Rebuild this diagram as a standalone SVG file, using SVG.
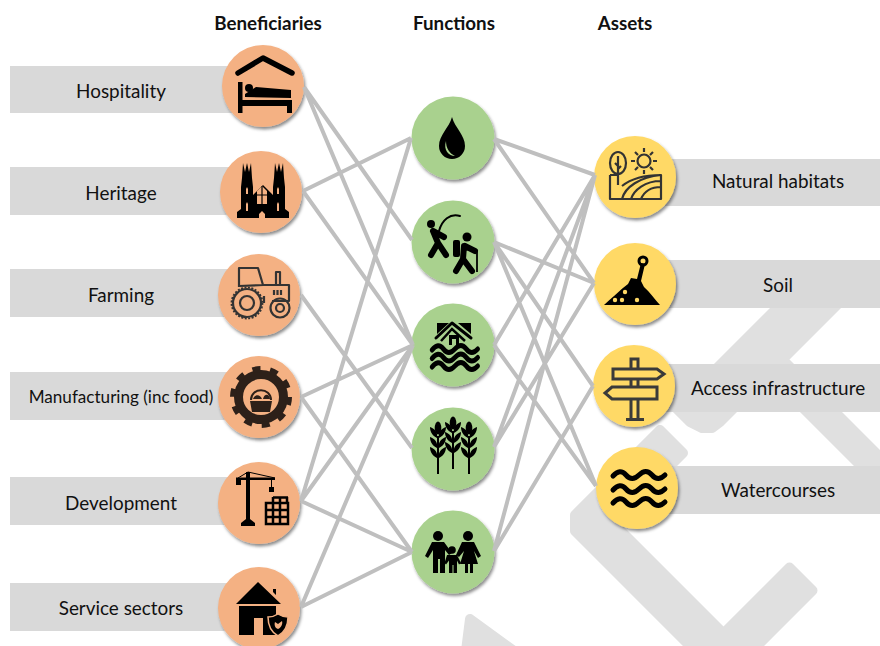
<svg xmlns="http://www.w3.org/2000/svg" xmlns:xlink="http://www.w3.org/1999/xlink" width="880" height="646" viewBox="0 0 880 646">
<style>
text{font-family:"Lato","Open Sans","Liberation Sans",sans-serif;fill:#111;text-anchor:middle}
.h{font-size:18.800px;font-weight:700}
.t{font-size:18.900px}
.lab{fill:#d9d9d9}
.wm{fill:#e0e0e0;stroke:#e0e0e0;stroke-width:10;stroke-linejoin:round}
.c{stroke:#bfbfbf;stroke-width:4;fill:none}
.o{fill:#f4b183;filter:url(#s)}
.g{fill:#a9d18e;filter:url(#s)}
.y{fill:#ffd966;filter:url(#s)}
.k{fill:#000}
.ln{fill:none;stroke:#000;stroke-linecap:round;stroke-linejoin:round}
.d{fill:none;stroke:#333;stroke-width:2.200;stroke-linejoin:round}
</style>
<defs>
<filter id="s" x="-20%" y="-20%" width="145%" height="145%"><feDropShadow dx="1.500" dy="2.500" stdDeviation="1.600" flood-color="#000" flood-opacity=".45"/></filter>
<path id="w" d="M0 0q7-8 13-1t13 0t13 0t13 0" fill="none" stroke="#000" stroke-width="5" stroke-linecap="round"/>
<g id="wheat">
<ellipse cx="0" cy="-22" rx="3.300" ry="6.500"/>
<path d="M-1-12C-7-15-8-20-8-23C-3-21 0-18-1-12ZM1-12C7-15 8-20 8-23C3-21 0-18 1-12Z"/>
<path d="M-1-2C-7-5-8-10-8-13C-3-11 0-8-1-2ZM1-2C7-5 8-10 8-13C3-11 0-8 1-2Z"/>
<path d="M-1 8C-7 5-8 0-8-3C-3-1 0 2-1 8ZM1 8C7 5 8 0 8-3C3-1 0 2 1 8Z"/>
<rect x="-1" y="-14" width="2" height="38"/>
</g>
</defs>
<g id="watermark">
<path class="wm" d="M660 430L683 453L613 523L723.500 633.500L789.500 567.500L812.500 590.500L723.500 679.500L575 531L575 515Z"/>
<path class="wm" d="M781 304L676.500 408.500L690 422L702 428L712 428L720 422L768.500 373.500L895 500L895 472L782.500 359.500L842 300L785 300Z"/>
<path class="wm" d="M470 619L514 651L466 651Z"/>
</g>
<g id="headers">
<text class="h" x="268" y="30">Beneficiaries</text>
<text class="h" x="454" y="30">Functions</text>
<text class="h" x="625" y="30">Assets</text>
</g>
<g id="node-hospitality">
<rect class="lab" x="10" y="66" width="225" height="47"/>
<text class="t" x="121" y="98">Hospitality</text>
<circle class="o" cx="263" cy="86" r="41"/>
<path class="ln" stroke-width="5.500" d="M238 73L263 58L292 73"/>
<rect class="k" x="238" y="82" width="4.500" height="31"/>
<rect class="k" x="238" y="100" width="54" height="6"/>
<rect class="k" x="287" y="100" width="5" height="13"/>
<path class="k" d="M245 97L245 94L256 87L291 90V98Z"/>
<circle class="k" cx="249" cy="88" r="4"/>
</g>
<g id="node-heritage">
<rect class="lab" x="10" y="167" width="225" height="48"/>
<text class="t" x="121" y="200">Heritage</text>
<circle class="o" cx="261" cy="192" r="41"/>
<path class="k" d="M237 218v-6l4-3v-22l1-9 1-15 2 9 2-9 2 9 2-9 1 15 1 9v8l6-6 4-4 4 4 6 6v-8l1-9 1-15 2 9 2-9 2 9 2-9 1 15 1 9v22l4 3v6z"/>
<path fill="#f4b183" d="M257 204v-13l5-5 5 5v13zM259 218v-4l3-3 3 3v4zM246 211v-7l1-2 1 2v7zM277 211v-7l1-2 1 2v7zM246 194v-5l1-2 1 2v5zM277 194v-5l1-2 1 2v5z"/>
<path stroke="#000" stroke-width="1.200" d="M262 186v18M257 195h10"/>
</g>
<g id="node-farming">
<rect class="lab" x="10" y="269" width="225" height="48"/>
<text class="t" x="121" y="302">Farming</text>
<circle class="o" cx="259" cy="295" r="41"/>
<g class="d">
<circle cx="247" cy="303" r="14"/>
<circle cx="247" cy="303" r="15.500" stroke-dasharray="2 1.500" stroke-width="1.800"/>
<circle cx="247" cy="303" r="7"/>
<circle cx="280" cy="308" r="9.500"/>
<circle cx="280" cy="308" r="4"/>
<path d="M239 287V268H258L263 285H289V301H272M264 303V296M239 286L263 285"/>
<path d="M276 285V272H280V285"/>
<path d="M274 290v5M277.500 290v5M281 290v5"/>
</g>
</g>
<g id="node-manufacturing">
<rect class="lab" x="10" y="372" width="225" height="48"/>
<text class="t" x="121" y="403" style="font-size:17.100px">Manufacturing (inc food)</text>
<circle class="o" cx="259" cy="397" r="41"/>
<g fill="none" stroke="#2d2019">
<circle cx="261" cy="397" r="22.500" stroke-width="9"/>
<circle cx="261" cy="397" r="28" stroke-width="6" stroke-dasharray="8 9.600"/>
<path stroke-width="2" d="M251 400c0-13 20-13 20 0"/>
</g>
<path fill="#2d2019" d="M250 401h22l-2 11h-18zM253 399c2-5 7-5 9 0zM263 399c1-5 6-6 7 0z"/>
</g>
<g id="node-development">
<rect class="lab" x="10" y="477" width="225" height="48"/>
<text class="t" x="121" y="510">Development</text>
<circle class="o" cx="259" cy="503" r="41"/>
<path class="k" d="M246 472h4v48h-4zM241 526v-3l5-4h4l5 4v3zM236 477.500h39v2.500h-39zM236 480h5v5h-5zM269 487h5v5h-5z"/>
<path stroke="#000" fill="none" d="M248 472L275 478M248 472L238 478M271.500 480V487"/>
<g stroke="#000" fill="none" stroke-width="2.500">
<rect x="266" y="503" width="22" height="21"/>
<path d="M273 497V524M280 497V524M287 497V503M266 510H288M266 517H288M273 497.500H288"/>
</g>
</g>
<g id="node-service">
<rect class="lab" x="10" y="583" width="225" height="48"/>
<text class="t" x="121" y="615">Service sectors</text>
<circle class="o" cx="259" cy="608" r="41"/>
<path class="k" d="M258 582L281 604H236zM239 606H276V635H263V618H254V635H239zM273 589h3v6l-3-3z"/>
<path fill="#000" stroke="#f4b183" stroke-width="1.500" d="M268 617c4 0 7-1 10-3c3 2 6 3 10 3c0 9-3 15-10 19c-7-4-10-10-10-19z"/>
<path fill="#f4b183" d="M275 622l3 2l4-3c1 3-1 7-4 8c-3-1-4-4-3-7z"/>
</g>
<g id="node-water">
<circle class="g" cx="453" cy="138" r="41.500"/>
<path class="k" d="M452 117C449 128 439 135 439 146A13 13 0 0 0 465 146C465 135 455 128 452 117Z"/>
<path fill="#a9d18e" d="M446 141C443 150 449 156 455 156C449 153 446 148 446 141Z"/>
</g>
<g id="node-recreation">
<circle class="g" cx="453" cy="242" r="41.500"/>
<circle class="k" cx="431" cy="224" r="4"/>
<circle class="k" cx="467" cy="237" r="4.500"/>
<path class="ln" stroke-width="6" d="M433 231L438 243L431 255M438 243L446 255M433 231L444 237"/>
<path class="ln" stroke-width="2" d="M439 231C442 220 450 213 460 216"/>
<path class="ln" stroke-width="6" d="M464 246L463 259L456 271M463 259L472 271M465 246L475 251"/>
<rect class="k" x="453" y="240" width="7" height="17" rx="2"/>
<path stroke="#000" stroke-width="1.800" d="M477 250V272"/>
</g>
<g id="node-flood">
<circle class="g" cx="453" cy="345" r="41.500"/>
<path class="k" d="M437 323h12l-12 11zM458 323h13v11z"/>
<path class="ln" stroke-width="3" d="M436 338L452 323L471 338"/>
<path fill="none" stroke="#000" stroke-width="2.500" d="M441 341L452 329L465 341"/>
<rect class="k" x="449" y="335" width="10" height="10"/>
<rect fill="#a9d18e" x="452" y="339" width="4" height="6"/>
<use xlink:href="#w" href="#w" transform="translate(432 350) scale(.88 1)"/>
<use xlink:href="#w" href="#w" transform="translate(432 358.500) scale(.88 1)"/>
<use xlink:href="#w" href="#w" transform="translate(432 367) scale(.88 1)"/>
</g>
<g id="node-food">
<circle class="g" cx="453" cy="449" r="41.500"/>
<use xlink:href="#wheat" href="#wheat" x="438" y="450"/>
<use xlink:href="#wheat" href="#wheat" x="453" y="445"/>
<use xlink:href="#wheat" href="#wheat" x="469" y="450"/>
</g>
<g id="node-community">
<circle class="g" cx="453" cy="552" r="41.500"/>
<circle class="k" cx="438" cy="536" r="5"/>
<circle class="k" cx="468" cy="536" r="5"/>
<circle class="k" cx="452" cy="550" r="3.800"/>
<path class="k" d="M432 542h12l8 11-3 2-4-5v23h-5v-14h-2v14h-5v-23l-5 8-3-2z"/>
<path class="k" d="M462 542h12l7 14-3 2-4-7 4 13h-5v9h-3v-9h-2v9h-3v-9h-5l4-13-5 6-3-2z"/>
<path class="k" d="M447 555h10l4 8-2 1.500-2-4v12.500h-3.500v-8h-1v8h-3.500v-12.500l-3 4-1.500-1.500z"/>
</g>
<g id="node-habitats">
<rect class="lab" x="665" y="159" width="215" height="47"/>
<text class="t" x="778" y="188">Natural habitats</text>
<circle class="y" cx="635" cy="177" r="41"/>
<g class="d">
<ellipse cx="618" cy="163" rx="8" ry="11"/>
<path d="M618 156V185M618 166l-3-3M618 169l3-3"/>
<circle cx="644" cy="161" r="6.500"/>
<path d="M644 148v4M644 170v4M631 161h4M653 161h4M635 152l3 3M650 167l3 3M653 152l-3 3M638 167l-3 3"/>
<path d="M610 175V199H661V175C645 175 632 178 622 186M610 175H618M622 199C625 187 640 177 661 175M631 199C634 190 645 181 661 181M641 199C644 192 651 187 661 187"/>
</g>
</g>
<g id="node-soil">
<rect class="lab" x="665" y="260" width="215" height="48"/>
<text class="t" x="778" y="292">Soil</text>
<circle class="y" cx="635" cy="284" r="41"/>
<path class="k" d="M604 305C612 298 620 290 628 284L631 278L637 279L641 263L645 264L641 281L644 287C650 292 655 300 660 305Z"/>
<circle cx="643" cy="261" r="4" fill="none" stroke="#000" stroke-width="3"/>
<g fill="#ffd966"><circle cx="625" cy="292" r="2.200"/><circle cx="615" cy="300" r="2.200"/><circle cx="622" cy="300" r="2.200"/><circle cx="637" cy="300" r="2.200"/></g>
</g>
<g id="node-access">
<rect class="lab" x="665" y="364" width="215" height="48"/>
<text class="t" x="778" y="395">Access infrastructure</text>
<circle class="y" cx="634" cy="386" r="41"/>
<g fill="none" stroke="#3a3a3a" stroke-width="3" stroke-linejoin="miter">
<path d="M631 368V359H638V368M631 379V387M638 379V387M631 399V419M638 399V419M626 419.500H644"/>
<path d="M613 369H657L664 374L657 379H613Z"/>
<path d="M657 387H612L605 393L612 399H657Z"/>
</g>
</g>
<g id="node-watercourses">
<rect class="lab" x="665" y="466" width="215" height="48"/>
<text class="t" x="778" y="497">Watercourses</text>
<circle class="y" cx="637" cy="488" r="41"/>
<use xlink:href="#w" href="#w" transform="translate(613 476)"/>
<use xlink:href="#w" href="#w" transform="translate(613 490)"/>
<use xlink:href="#w" href="#w" transform="translate(613 503)"/>
</g>
<g id="connectors">
<path class="c" d="M304 87L412 240M304 87L413 345M303 191L411 138M303 191L413 345M301 295L412 448M301 397L413 345M301 397L412 552M301 501L411 138M301 501L413 345M301 501L412 552M301 607L413 345M301 607L412 552"/>
<path class="c" d="M494 139L595 175M494 139L594 283M494 242L594 283M494 242L593 386M494 242L596 486M494 345L595 175M494 345L596 486M494 447L595 175M494 447L594 283M494 551L595 175M494 551L593 386"/>
</g>
</svg>
